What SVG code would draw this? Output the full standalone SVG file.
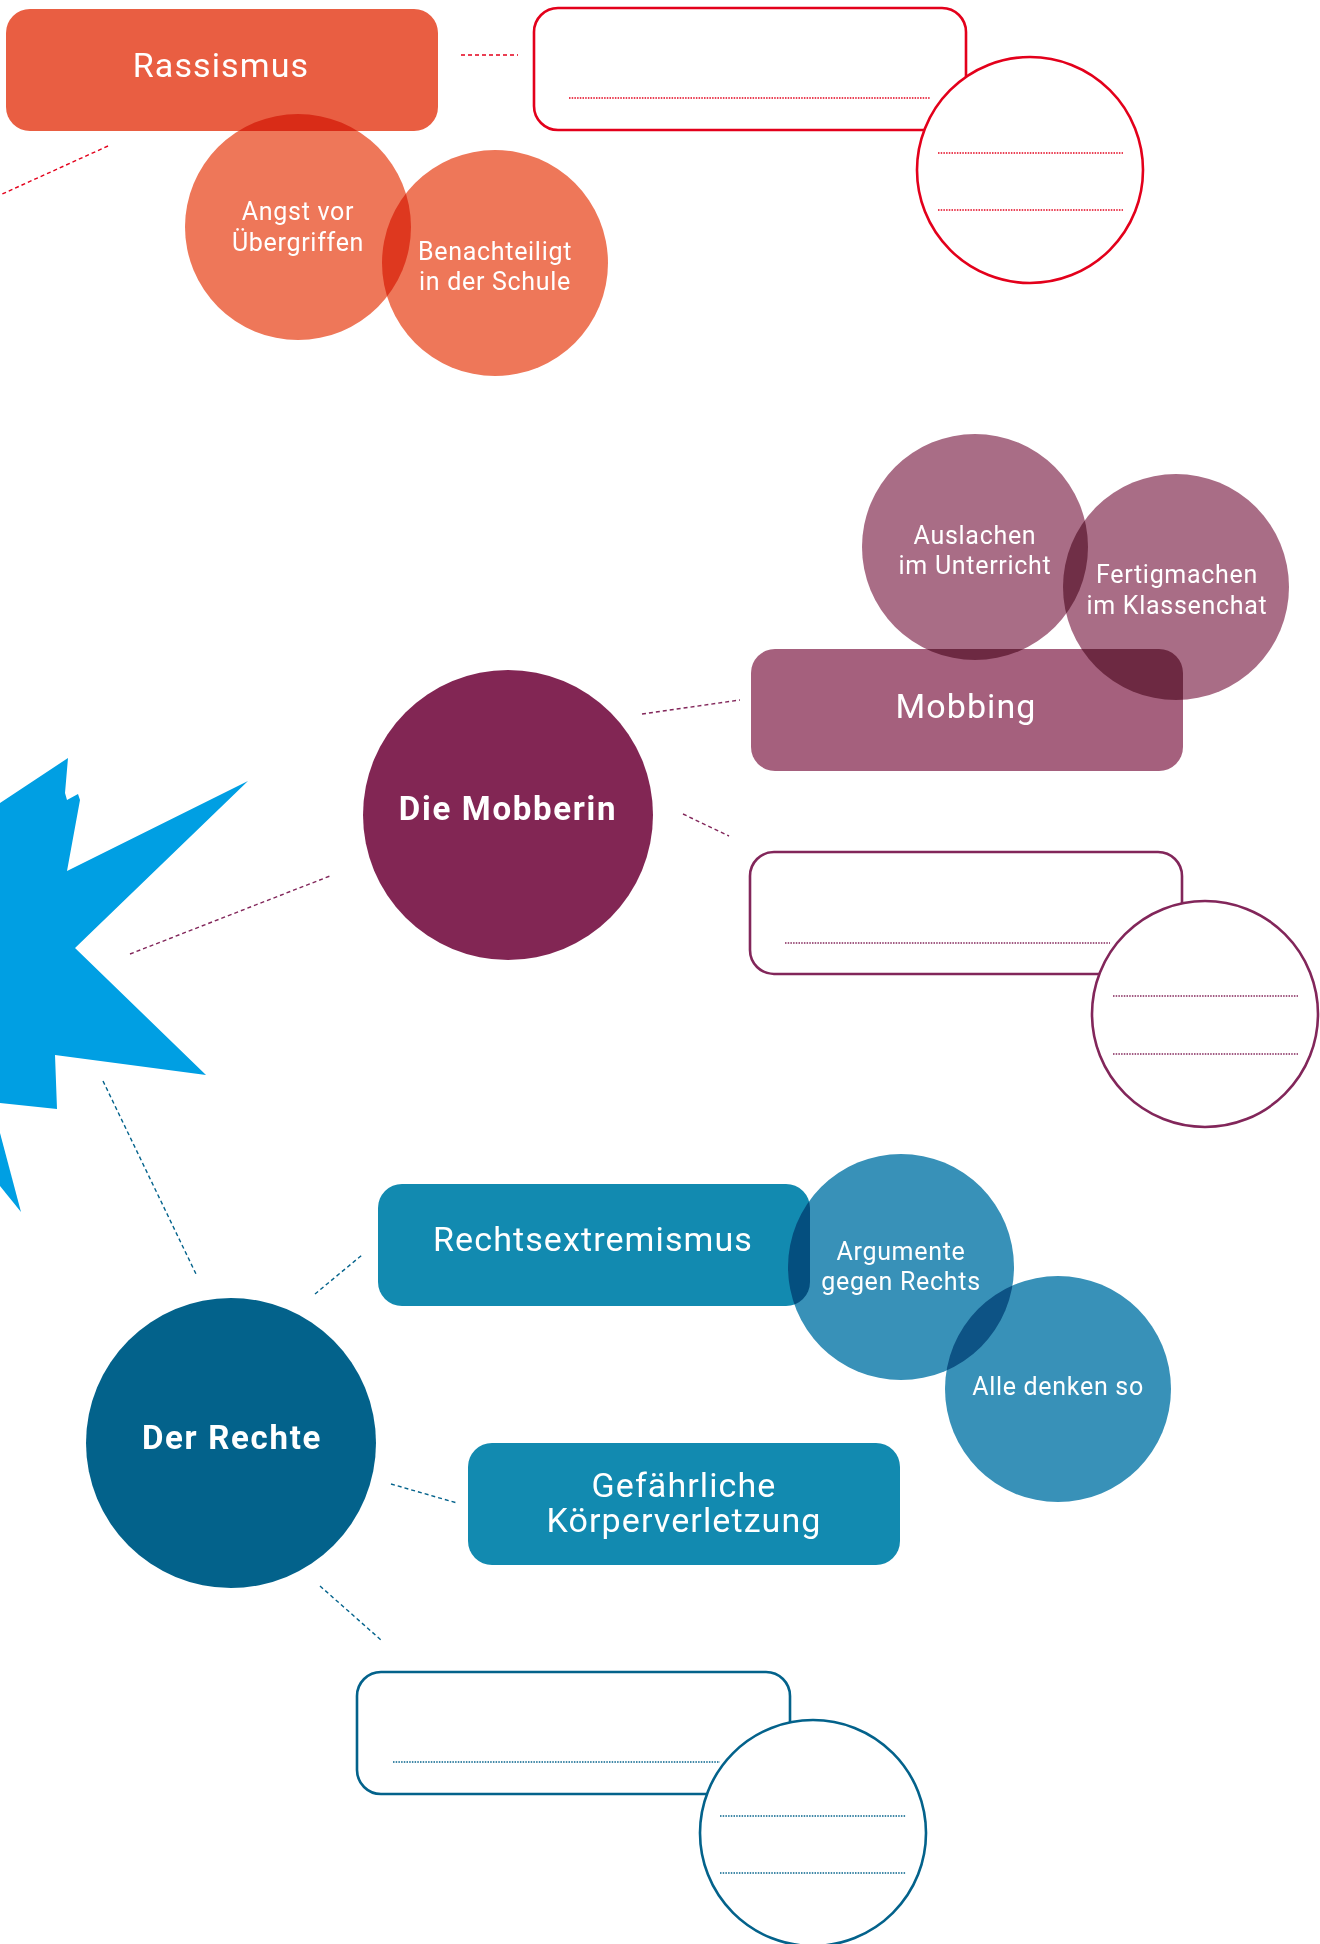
<svg xmlns="http://www.w3.org/2000/svg" width="1320" height="1944" viewBox="0 0 1320 1944">
<style>
text{font-family:Roboto,"Liberation Sans",sans-serif;fill:#fff;text-anchor:middle}
.big{font-size:34px;letter-spacing:1.1px}
.small{font-size:25px;letter-spacing:0.7px}
.bold{font-size:33px;font-weight:bold;letter-spacing:1.7px}
.mul{mix-blend-mode:multiply}
.con{fill:none;stroke-width:1.4;stroke-dasharray:4 3}
.dot{fill:none;stroke-width:1.3;stroke-dasharray:1.5 1.2}
.out{fill:#fff;stroke-width:2.6}
.red{stroke:#E3001B}.pur{stroke:#82265A}.blu{stroke:#03628B}
</style>
<rect width="1320" height="1944" fill="#fff"/>
<g id="star">
<polygon fill="#009FE3" points="0,803 68,758 65,793 67,800 78,794 80,800 67,871 248,781 75,948 206,1075 55,1055 57,1109 0,1103"/>
<polygon fill="#009FE3" points="0,1133 21,1212 0,1186"/>
</g>
<g id="connectors">
<line class="con red" x1="461" y1="55" x2="518" y2="55"/>
<line class="con red" x1="108" y1="146" x2="0" y2="195"/>
<line class="con pur" x1="130" y1="954" x2="330" y2="876"/>
<line class="con pur" x1="642" y1="714" x2="740" y2="700"/>
<line class="con pur" x1="683" y1="814" x2="729" y2="836"/>
<line class="con blu" x1="103" y1="1081" x2="196" y2="1274"/>
<line class="con blu" x1="315" y1="1294" x2="362" y2="1255"/>
<line class="con blu" x1="391" y1="1484" x2="457" y2="1503"/>
<line class="con blu" x1="320" y1="1586" x2="381" y2="1640"/>
</g>
<g id="rassismus">
<rect class="mul" x="6" y="9" width="432" height="122" rx="24" fill="#E95E42"/>
<text class="big" x="221" y="77">Rassismus</text>
</g>
<g id="angst">
<circle class="mul" cx="298" cy="227" r="113" fill="#EE7759"/>
<text class="small" x="298" y="220"><tspan x="298">Angst vor</tspan><tspan x="298" dy="31">Übergriffen</tspan></text>
</g>
<g id="benachteiligt">
<circle class="mul" cx="495" cy="263" r="113" fill="#EE7759"/>
<text class="small" x="495" y="260"><tspan x="495">Benachteiligt</tspan><tspan x="495" dy="30">in der Schule</tspan></text>
</g>
<g id="rassismus-answer">
<rect class="out red" x="534" y="8" width="432" height="122" rx="24"/>
<line class="dot red" x1="569" y1="98" x2="930" y2="98"/>
<circle class="out red" cx="1030" cy="170" r="113"/>
<line class="dot red" x1="938" y1="153" x2="1123" y2="153"/>
<line class="dot red" x1="938" y1="210" x2="1123" y2="210"/>
</g>
<g id="mobbing">
<rect class="mul" x="751" y="649" width="432" height="122" rx="24" fill="#A5607D"/>
<text class="big" x="966" y="718">Mobbing</text>
</g>
<g id="auslachen">
<circle class="mul" cx="975" cy="547" r="113" fill="#A96D86"/>
<text class="small" x="975" y="544"><tspan x="975">Auslachen</tspan><tspan x="975" dy="30">im Unterricht</tspan></text>
</g>
<g id="fertigmachen">
<circle class="mul" cx="1176" cy="587" r="113" fill="#A96D86"/>
<text class="small" x="1177" y="583"><tspan x="1177">Fertigmachen</tspan><tspan x="1177" dy="31">im Klassenchat</tspan></text>
</g>
<g id="mobberin">
<circle cx="508" cy="815" r="145" fill="#822654"/>
<text class="bold" x="508" y="820">Die Mobberin</text>
</g>
<g id="mobberin-answer">
<rect class="out pur" x="750" y="852" width="432" height="122" rx="24"/>
<line class="dot pur" x1="785" y1="943" x2="1110" y2="943"/>
<circle class="out pur" cx="1205" cy="1014" r="113"/>
<line class="dot pur" x1="1113" y1="996" x2="1298" y2="996"/>
<line class="dot pur" x1="1113" y1="1054" x2="1298" y2="1054"/>
</g>
<g id="rechtsextremismus">
<rect class="mul" x="378" y="1184" width="432" height="122" rx="24" fill="#128AB0"/>
<text class="big" x="593" y="1251">Rechtsextremismus</text>
</g>
<g id="argumente">
<circle class="mul" cx="901" cy="1267" r="113" fill="#3891B8"/>
<text class="small" x="901" y="1260"><tspan x="901">Argumente</tspan><tspan x="901" dy="30">gegen Rechts</tspan></text>
</g>
<g id="alle">
<circle class="mul" cx="1058" cy="1389" r="113" fill="#3891B8"/>
<text class="small" x="1058" y="1395">Alle denken so</text>
</g>
<g id="gefaehrliche">
<rect class="mul" x="468" y="1443" width="432" height="122" rx="24" fill="#128AB0"/>
<text class="big" x="684" y="1497"><tspan x="684">Gefährliche</tspan><tspan x="684" dy="35">Körperverletzung</tspan></text>
</g>
<g id="rechte">
<circle cx="231" cy="1443" r="145" fill="#03628B"/>
<text class="bold" x="232" y="1449">Der Rechte</text>
</g>
<g id="rechte-answer">
<rect class="out blu" x="357" y="1672" width="433" height="122" rx="24"/>
<line class="dot blu" x1="393" y1="1762" x2="720" y2="1762"/>
<circle class="out blu" cx="813" cy="1833" r="113"/>
<line class="dot blu" x1="720" y1="1816" x2="906" y2="1816"/>
<line class="dot blu" x1="720" y1="1873" x2="906" y2="1873"/>
</g>
</svg>
